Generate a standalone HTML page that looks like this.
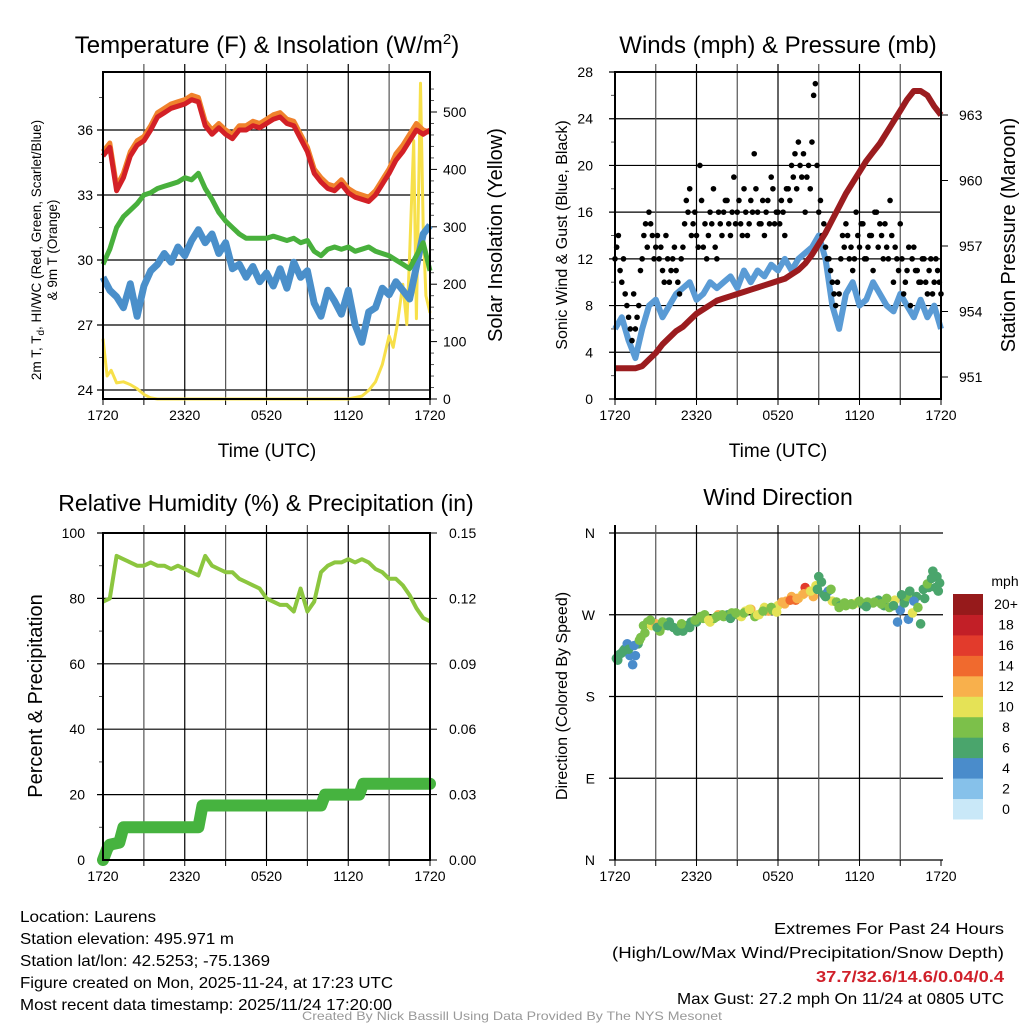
<!DOCTYPE html>
<html><head><meta charset="utf-8"><style>
html,body{margin:0;padding:0;background:#fff;}
svg{display:block;font-family:"Liberation Sans",Arial,sans-serif;}
</style></head><body>
<svg id="c" width="1024" height="1024" viewBox="0 0 1024 1024" xmlns="http://www.w3.org/2000/svg">
<rect width="1024" height="1024" fill="#fff"/>
</svg>
<script>
// ---------- DATA ----------
const halfHours = [0,0.5,1,1.5,2,2.5,3,3.5,4,4.5,5,5.5,6,6.5,7,7.5,8,8.5,9,9.5,10,10.5,11,11.5,12,12.5,13,13.5,14,14.5,15,15.5,16,16.5,17,17.5,18,18.5,19,19.5,20,20.5,21,21.5,22,22.5,23,23.5,24];
const timeLabels = ["1720","2320","0520","1120","1720"];
const tempRed = [34.8,35.2,33.2,33.8,34.8,35.3,35.5,36.0,36.6,36.8,37.0,37.1,37.2,37.4,37.3,36.2,35.8,36.1,35.8,35.6,36.0,36.0,36.2,36.1,36.3,36.5,36.6,36.3,36.2,35.6,35.0,34.0,33.6,33.3,33.2,33.5,33.1,32.9,32.8,32.7,33.0,33.5,34.0,34.6,35.0,35.5,36.0,35.8,36.0];
const tempOrange = [35.0,35.4,33.4,34.0,35.0,35.5,35.7,36.2,36.8,37.0,37.2,37.3,37.4,37.6,37.5,36.4,36.0,36.3,36.0,35.8,36.2,36.2,36.4,36.3,36.5,36.7,36.8,36.5,36.4,35.8,35.2,34.2,33.8,33.5,33.4,33.7,33.3,33.1,33.0,32.9,33.2,33.7,34.2,34.9,35.3,35.8,36.3,36.0,35.9];
const tempGreen = [29.8,30.5,31.5,32.0,32.3,32.6,33.0,33.1,33.3,33.4,33.5,33.6,33.8,33.7,34.0,33.3,32.8,32.2,31.8,31.5,31.2,31.0,31.0,31.0,31.0,31.1,31.0,30.9,31.0,30.8,30.9,30.4,30.2,30.5,30.6,30.5,30.6,30.4,30.5,30.6,30.4,30.3,30.2,30.0,29.8,29.6,30.2,30.8,29.5];
const tempBlue = [29.2,28.6,28.3,27.8,28.9,27.4,28.8,29.5,29.8,30.3,29.9,30.6,30.2,30.9,31.4,30.8,31.2,30.3,30.8,29.6,29.8,29.2,29.7,29.0,29.4,28.8,29.6,28.7,29.9,29.2,29.5,28.0,27.4,28.6,28.1,27.5,28.6,27.0,26.2,27.6,27.8,28.7,28.4,29.0,28.6,28.2,29.7,31.2,31.6];
const solarHours = [0,0.3,0.6,1,1.5,2,2.5,3,3.5,4,18,19,19.5,20,20.5,21,21.3,21.6,22,22.3,22.5,22.8,23,23.3,23.5,23.7,24];
const solarVals = [105,40,50,28,30,25,18,8,2,0,0,5,15,30,60,110,90,130,200,130,250,450,140,550,300,180,150];
const tempTicks = [24,27,30,33,36];
const solarTicks = [0,100,200,300,400,500];

const windSonic = [6,7,5,3.5,6,8,8.5,7,8,9,9.5,10,8.5,9,10,9.5,10,10.5,9.5,11,10,11,10.5,11.5,11,12,11,12,12.5,13,14,12,8,6,9,10,8,8.5,10,9,8,7.5,9,8,7,8.5,7,8,6];
const gusts = [12,14,10,9,7,5,6,8,12,15,16,14,13,12,11,14,10,12,11,9,13,17,18,15,14,20,13,12,16,18,12,15,16,17,14,19,16,15,18,14,17,21,16,15,14,17,19,15,16,17,14,18,20,21,22,19,16,20,22,27,16,14,13,12,10,8,9,14,15,12,11,16,13,15,12,14,11,16,15,12,13,17,10,12,15,9,11,8,13,11,10,12,9,12,10,11,9];
const gusts2 = [13,11,12,8,6,9,7,11,14,13,15,12,14,13,10,12,11,13,10,12,15,16,14,16,13,17,15,14,15,13,16,14,17,15,16,15,17,14,16,15,16,18,15,17,16,15,18,16,15,16,18,17,19,18,20,21,19,18,26,20,17,15,12,11,9,10,12,13,14,13,12,14,15,12,13,14,16,13,14,15,12,14,13,11,12,10,13,12,11,10,12,10,11,9,12,10];
const pressure = [951.4,951.4,951.4,951.4,951.5,951.8,952.1,952.5,952.8,953.1,953.3,953.6,953.9,954.1,954.3,954.5,954.6,954.7,954.8,954.9,955.0,955.1,955.2,955.3,955.4,955.5,955.7,955.9,956.2,956.6,957.1,957.6,958.2,958.8,959.4,959.9,960.4,960.9,961.3,961.7,962.2,962.7,963.2,963.7,964.1,964.1,963.9,963.4,963.0];
const windTicks = [0,4,8,12,16,20,24,28];
const presTicks = [951,954,957,960,963];

const rh = [79,80,93,92,91,90,90,91,90,90,89,90,89,88,87,93,90,89,88,88,86,85,84,83,80,79,78,78,76,83,76,79,88,90,91,91,92,91,92,91,89,88,86,86,84,81,77,74,73];
const precipHours = [0,0.3,0.5,1.2,1.5,7.0,7.3,16.0,16.3,18.8,19.1,24];
const precipVals = [0,0.005,0.007,0.008,0.015,0.015,0.025,0.025,0.030,0.030,0.035,0.035];
const rhTicks = [0,20,40,60,80,100];
const precipTicks = [0,0.03,0.06,0.09,0.12,0.15];

const dirHours = [0.1,0.3,0.5,0.7,0.9,1.1,1.3,1.5,1.7,1.9,2.1,2.4,2.7,3.0,3.3,3.6,4.0,4.3,4.6,5.0,5.3,5.6,6.0,6.3,6.6,7.0,7.3,7.6,8.0,8.3,8.6,9.0,9.3,9.6,10.0,10.3,10.6,11.0,11.3,11.6,12.0,12.3,12.6,13.0,13.3,13.5,13.8,14.0,14.3,14.6,14.8,15.0,15.2,15.4,15.7,16.0,16.3,16.6,17.0,17.4,17.8,18.2,18.6,19.0,19.4,19.8,20.2,20.6,21.0,21.3,21.6,21.9,22.2,22.5,22.8,23.1,23.4,23.7,23.9,20.8,21.5,22.0,
  0.2,0.6,1.0,1.4,1.8,2.2,2.6,3.1,3.5,3.9,4.5,4.9,5.5,5.9,6.5,6.9,7.5,7.9,8.5,8.9,9.5,9.9,10.5,10.9,11.5,11.9,12.5,12.9,13.4,13.9,14.4,14.9,15.5,15.9,16.5,16.9,17.5,18.0,18.5,19.1,19.6,20.0,20.5,21.1,21.7,22.3,22.7,23.0,23.3,23.6,23.8];
const dirDeg = [222,226,228,232,238,225,215,225,238,245,258,262,258,260,252,258,262,256,252,252,258,262,262,268,270,262,266,270,268,270,272,270,268,274,276,268,270,278,274,275,280,284,285,290,286,288,292,300,296,290,302,312,306,292,296,285,284,280,280,282,283,282,284,283,286,280,278,286,275,283,265,272,290,260,288,300,318,312,305,262,290,285,
  220,230,232,236,242,250,264,256,262,258,255,260,256,264,266,264,268,270,266,272,272,276,270,274,278,273,282,286,288,293,296,298,290,298,278,283,281,285,279,284,282,288,280,292,296,278,298,304,310,300,296];
const dirSpeed = [6,7,6,6,5,4,4,5,7,8,9,9,10,13,9,8,7,7,6,6,7,7,7,8,8,10,9,12,8,7,8,8,11,10,12,8,10,11,12,9,10,13,12,12,14,12,11,16,14,12,11,6,6,7,5,10,8,7,8,8,10,7,8,9,7,6,8,11,4,7,4,10,7,6,7,6,6,6,6,5,8,5,
  7,6,7,5,8,8,9,7,8,7,6,8,7,9,8,10,9,8,7,9,8,10,11,9,8,10,12,14,13,13,11,7,6,8,9,8,9,8,7,8,9,8,6,7,7,8,7,8,6,7,6];
const speedBins = ["0","2","4","6","8","10","12","14","16","18","20+"];
const speedColors = ["#c9e8f8","#86c1ea","#4a8ccb","#4aa56c","#7cc04a","#e5e256","#f8b04c","#f06a2e","#e23b2c","#c21f27","#961a1b"];
const dirLabels = ["N","E","S","W","N"];

// ---------- HELPERS ----------
const NS="http://www.w3.org/2000/svg";
const svg=document.getElementById('c');
function mk(tag,attrs,parent){const e=document.createElementNS(NS,tag);for(const k in attrs)e.setAttribute(k,attrs[k]);(parent||svg).appendChild(e);return e;}
function txt(x,y,s,size,anchor,extra,parent){const t=mk('text',Object.assign({x:x,y:y,'font-size':size,'text-anchor':anchor||'middle',fill:'#000'},extra||{}),parent);t.textContent=s;return t;}
function lin(d0,d1,r0,r1){return v=>r0+(v-d0)*(r1-r0)/(d1-d0);}
function pathFrom(xs,ys,fx,fy){let d='';for(let i=0;i<xs.length;i++){d+=(i?'L':'M')+fx(xs[i]).toFixed(1)+','+fy(ys[i]).toFixed(1);}return d;}

function frame(g,L,R,T,B,fx){
  for(let h=3;h<24;h+=3){const x=fx(h);mk('line',{x1:x,x2:x,y1:T-8,y2:B,stroke:(h%6===0?'#000':'#555'),'stroke-width':1.2},g);}
  for(let i=0;i<timeLabels.length;i++){const t=txt(fx(i*6),B+21,timeLabels[i],14,'middle',{},g);}
  for(let h=0;h<=24;h+=3){mk('line',{x1:fx(h),x2:fx(h),y1:B,y2:B+6,stroke:'#000','stroke-width':1},g);}
}

// ---------- PANEL 1 ----------
(function(){
  const g=mk('g',{});
  
  
  const L=103,R=430,T=72,B=399;
  const fx=lin(0,24,L,R), fy=lin(24,36,390,130), fs=lin(0,500,399,112);
  for(const v of tempTicks){const y=fy(v);mk('line',{x1:L-6,x2:R,y1:y,y2:y,stroke:'#000','stroke-width':1.2},g);const t=txt(L-10,y+5,String(v),14,'end',{},g);}
  for(let v=25.5;v<38;v+=3){const y=fy(v);if(y>T)mk('line',{x1:L-4,x2:L,y1:y,y2:y,stroke:'#555'},g);}
  for(const v of solarTicks){const y=fs(v);mk('line',{x1:R,x2:R+7,y1:y,y2:y,stroke:'#000'},g);const t=txt(R+13,y+5,String(v),14,'start',{},g);}
  for(let v=20;v<560;v+=20){if(v%100)mk('line',{x1:R,x2:R+4,y1:fs(v),y2:fs(v),stroke:'#555'},g);}
  frame(g,L,R,T,B,fx);
  const s=mk('path',{d:pathFrom(solarHours,solarVals,fx,fs),fill:'none',stroke:'#f7e04a','stroke-width':3,'stroke-linejoin':'round'},g);
  
  const b=mk('path',{d:pathFrom(halfHours,tempBlue,fx,fy),fill:'none',stroke:'#4a8fca','stroke-width':7,'stroke-linejoin':'round'},g);
  
  const gr=mk('path',{d:pathFrom(halfHours,tempGreen,fx,fy),fill:'none',stroke:'#48b03c','stroke-width':5,'stroke-linejoin':'round'},g);
  
  const o=mk('path',{d:pathFrom(halfHours,tempOrange,fx,fy),fill:'none',stroke:'#f0822c','stroke-width':5,'stroke-linejoin':'round'},g);
  
  const r=mk('path',{d:pathFrom(halfHours,tempRed,fx,fy),fill:'none',stroke:'#d32026','stroke-width':5,'stroke-linejoin':'round'},g);
  
  mk('rect',{x:L,y:T,width:R-L,height:B-T,fill:'none',stroke:'#000','stroke-width':2},g);
  const ti=txt(267,53,'',24,'middle',{},g);ti.innerHTML='Temperature (F) &amp; Insolation (W/m<tspan dy="-9" font-size="15">2</tspan><tspan dy="9">)</tspan>';
  
  const xt=txt(267,457,'Time (UTC)',19,'middle',{},g);
  const yl=txt(0,0,'',13.5,'middle',{transform:'translate(41,250) rotate(-90)'},g);
  yl.innerHTML='2m T, T<tspan dy="3" font-size="10">d</tspan><tspan dy="-3">, HI/WC (Red, Green, Scarlet/Blue)</tspan>';
  
  const yl2=txt(0,0,'& 9m T (Orange)',13.5,'middle',{transform:'translate(57,250) rotate(-90)'},g);
  
  const yr=txt(0,0,'Solar Insolation (Yellow)',20,'middle',{transform:'translate(502,235) rotate(-90)'},g);
  
})();

// ---------- PANEL 2 ----------
(function(){
  const g=mk('g',{});
  
  
  const L=615,R=941,T=72,B=399;
  const fx=lin(0,24,L,R), fy=lin(0,28,399,72), fp=lin(951,963,377,115);
  for(const v of windTicks){const y=fy(v);mk('line',{x1:L-6,x2:R,y1:y,y2:y,stroke:'#000','stroke-width':1.2},g);const t=txt(L-22,y+5,String(v),14,'end',{},g);}
  for(let v=2;v<28;v+=4)mk('line',{x1:L-4,x2:L,y1:fy(v),y2:fy(v),stroke:'#555'},g);
  for(const v of presTicks){const y=fp(v);mk('line',{x1:R,x2:R+7,y1:y,y2:y,stroke:'#000'},g);const t=txt(R+18,y+5,String(v),14,'start',{},g);}
  frame(g,L,R,T,B,fx);
  const b=mk('path',{d:pathFrom(halfHours,windSonic,fx,fy),fill:'none',stroke:'#5a9bd5','stroke-width':6,'stroke-linejoin':'round'},g);
  
  for(let i=0;i<gusts.length;i++){const c=mk('circle',{cx:fx(i*0.25),cy:fy(gusts[i]),r:2.8,fill:'#000'},g);
    
    }
  for(let i=0;i<gusts2.length;i++){const c=mk('circle',{cx:fx(0.125+i*0.25),cy:fy(gusts2[i]),r:2.8,fill:'#000'},g);
    
    }
  const p=mk('path',{d:pathFrom(halfHours,pressure,fx,fp),fill:'none',stroke:'#9b1c1f','stroke-width':6,'stroke-linejoin':'round'},g);
  
  mk('rect',{x:L,y:T,width:R-L,height:B-T,fill:'none',stroke:'#000','stroke-width':2},g);
  const ti=txt(778,53,'Winds (mph) & Pressure (mb)',24,'middle',{},g);
  const xt=txt(778,457,'Time (UTC)',19,'middle',{},g);
  const yl=txt(0,0,'Sonic Wind & Gust (Blue, Black)',16,'middle',{transform:'translate(567,235) rotate(-90)'},g);
  const yr=txt(0,0,'Station Pressure (Maroon)',20,'middle',{transform:'translate(1015,235) rotate(-90)'},g);
})();

// ---------- PANEL 3 ----------
(function(){
  const g=mk('g',{});
  
  
  const L=103,R=430,T=533,B=860;
  const fx=lin(0,24,L,R), fy=lin(0,100,860,533), fq=lin(0,0.15,860,533);
  for(const v of rhTicks){const y=fy(v);mk('line',{x1:L-6,x2:R,y1:y,y2:y,stroke:'#000','stroke-width':1.2},g);const t=txt(L-18,y+5,String(v),14,'end',{},g);}
  for(let v=10;v<100;v+=20)mk('line',{x1:L-4,x2:L,y1:fy(v),y2:fy(v),stroke:'#555'},g);
  for(const v of precipTicks){const y=fq(v);mk('line',{x1:R,x2:R+7,y1:y,y2:y,stroke:'#000'},g);const t=txt(R+19,y+5,v.toFixed(2),14,'start',{},g);}
  frame(g,L,R,T,B,fx);
  const p=mk('path',{d:pathFrom(precipHours,precipVals,fx,fq),fill:'none',stroke:'#46b33f','stroke-width':12,'stroke-linecap':'round','stroke-linejoin':'round'},g);
  
  const h=mk('path',{d:pathFrom(halfHours,rh,fx,fy),fill:'none',stroke:'#8cc63f','stroke-width':4,'stroke-linejoin':'round'},g);
  
  mk('rect',{x:L,y:T,width:R-L,height:B-T,fill:'none',stroke:'#000','stroke-width':2},g);
  const ti=txt(266,511,'Relative Humidity (%) & Precipitation (in)',23,'middle',{},g);
  const yl=txt(0,0,'Percent & Precipitation',20,'middle',{transform:'translate(42,696) rotate(-90)'},g);
})();

// ---------- PANEL 4 ----------
(function(){
  const g=mk('g',{});
  
  
  const L=615,R=941,T=533,B=860;
  const fx=lin(0,24,L,R), fy=lin(0,360,860,533);
  for(let i=0;i<dirLabels.length;i++){const y=fy(i*90);mk('line',{x1:L-6,x2:R+2,y1:y,y2:y,stroke:'#000','stroke-width':1.2},g);const t=txt(L-20,y+5,dirLabels[i],14,'end',{},g);}
  frame(g,L,R,T,B,fx);
  for(let i=0;i<dirHours.length;i++){
    const bin=Math.min(10,Math.floor(dirSpeed[i]/2));
    const c=mk('circle',{cx:fx(dirHours[i]),cy:fy(dirDeg[i]),r:4.8,fill:speedColors[bin]},g);
    
    
  }
  mk('line',{x1:L,x2:L,y1:T-8,y2:B,stroke:'#000','stroke-width':2},g);
  const ti=txt(778,505,'Wind Direction',23,'middle',{},g);
  const yl=txt(0,0,'Direction (Colored By Speed)',16,'middle',{transform:'translate(567,696) rotate(-90)'},g);
  const cb=mk('g',{},g);
  
  
  txt(1005,586,'mph',14,'middle',{},cb);
  const h=225/speedBins.length;
  for(let i=0;i<speedBins.length;i++){
    const y=819-(i+1)*h;
    const r=mk('rect',{x:953,y:y,width:30,height:h+0.5,fill:speedColors[i]},cb);
    
    
    const t=txt(1006,y+h/2+5,speedBins[i],14,'middle',{},cb);
    
    
  }
})();

// ---------- FOOTER ----------
const leftInfo=["Location: Laurens","Station elevation: 495.971 m","Station lat/lon: 42.5253; -75.1369","Figure created on Mon, 2025-11-24, at 17:23 UTC","Most recent data timestamp: 2025/11/24 17:20:00"];
const leftW=[136,214,250,373,372];
leftInfo.forEach((s,i)=>{const t=txt(20,922+i*22,s,16,'start',{textLength:leftW[i],lengthAdjust:'spacingAndGlyphs'});
  
  });
const r1=txt(1004,934,'Extremes For Past 24 Hours',16,'end',{textLength:230,lengthAdjust:'spacingAndGlyphs'});

const r2=txt(1004,958,'(High/Low/Max Wind/Precipitation/Snow Depth)',16,'end',{textLength:392,lengthAdjust:'spacingAndGlyphs'});

const r3=txt(1004,982,'37.7/32.6/14.6/0.04/0.4',16,'end',{fill:'#d0202a','font-weight':'bold',textLength:188,lengthAdjust:'spacingAndGlyphs'});

const r4=txt(1004,1004,'Max Gust: 27.2 mph On 11/24 at 0805 UTC',16,'end',{textLength:327,lengthAdjust:'spacingAndGlyphs'});

const cr=txt(512,1020,'Created By Nick Bassill Using Data Provided By The NYS Mesonet',12,'middle',{fill:'#999',textLength:420,lengthAdjust:'spacingAndGlyphs'});

</script>
</body></html>
